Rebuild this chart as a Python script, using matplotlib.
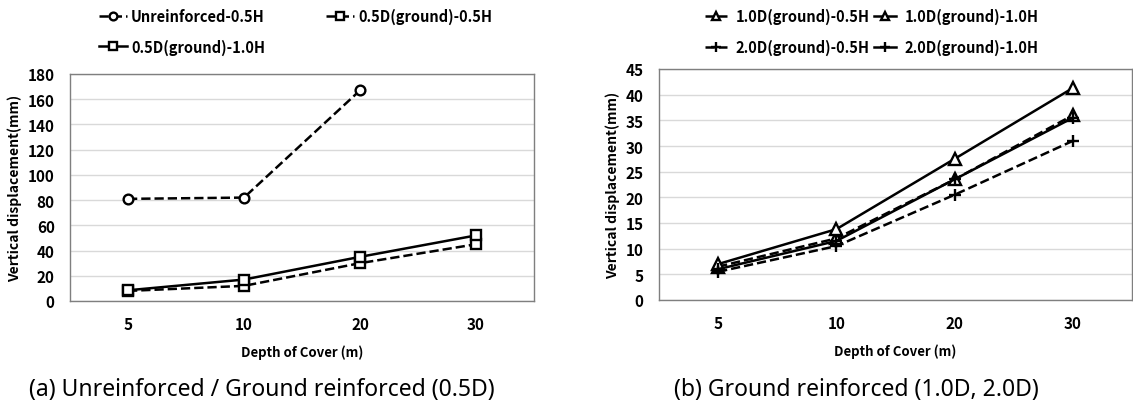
import matplotlib
matplotlib.use("Agg")
import matplotlib.pyplot as plt
import numpy as np

plt.rcParams["font.family"] = ["Noto Sans CJK KR", "DejaVu Sans"]

depths = ["5", "10", "20", "30"]

# (a) unreinforced / 0.5D
unreinf_05H = [81, 82, 167, np.nan]
d05_05H = [8, 12, 30, 45]
d05_10H = [8.5, 17, 35, 52]

# (b) 1.0D / 2.0D
d10_05H = [6.5, 12, 23.5, 36]
d10_10H = [7, 13.8, 27.5, 41.3]
d20_05H = [5.5, 10.5, 20.5, 31]
d20_10H = [6, 11.5, 23.5, 35.5]

fig = plt.figure(figsize=(11.33, 4.10), dpi=100)
W, H = 1133, 410
ax1 = fig.add_axes([70 / W, 1 - 302 / H, 464 / W, 227 / H])
ax2 = fig.add_axes([659 / W, 1 - 301 / H, 473 / W, 231 / H])

x = np.arange(len(depths))
mk = dict(color="black", lw=1.8, markerfacecolor="white", markeredgecolor="black", markeredgewidth=1.7)

h1 = ax1.plot(x, unreinf_05H, "--", marker="o", ms=7, label="Unreinforced-0.5H", **mk)[0]
h2 = ax1.plot(x, d05_05H, "--", marker="s", ms=7, label="0.5D(ground)-0.5H", **mk)[0]
h3 = ax1.plot(x, d05_10H, "-", marker="s", ms=7, label="0.5D(ground)-1.0H", **mk)[0]
ax1.set_ylim(0, 180)
ax1.set_yticks(np.arange(0, 181, 20))

g1 = ax2.plot(x, d10_05H, "--", marker="^", ms=8, label="1.0D(ground)-0.5H", **mk)[0]
g2 = ax2.plot(x, d10_10H, "-", marker="^", ms=8, label="1.0D(ground)-1.0H", **mk)[0]
g3 = ax2.plot(x, d20_05H, "--", marker="+", ms=9, label="2.0D(ground)-0.5H", **mk)[0]
g4 = ax2.plot(x, d20_10H, "-", marker="+", ms=9, label="2.0D(ground)-1.0H", **mk)[0]
ax2.set_ylim(0, 45)
ax2.set_yticks(np.arange(0, 46, 5))

for ax in (ax1, ax2):
    ax.set_xlim(-0.5, 3.5)
    ax.set_xticks(x)
    ax.set_xticklabels(depths)
    ax.tick_params(length=0, labelsize=11, pad=11)
    for lab in ax.get_xticklabels() + ax.get_yticklabels():
        lab.set_fontweight("bold")
    ax.grid(axis="y", color="#d9d9d9", lw=1)
    ax.set_axisbelow(True)
    for s in ax.spines.values():
        s.set_color("#7f7f7f")
        s.set_linewidth(1)
    ax.set_ylabel("Vertical displacement(mm)", fontsize=10, fontweight="bold", labelpad=4)
    ax.set_xlabel("Depth of Cover (m)", fontsize=9.5, fontweight="bold", labelpad=9)

leg_kw = dict(ncol=2, frameon=False, markerscale=0.8,
              prop={"weight": "bold", "size": 10.5}, borderaxespad=0, labelspacing=1.0)
ax1.legend([h1, h3, h2], [h.get_label() for h in (h1, h3, h2)],
           loc="upper left", bbox_to_anchor=(93 / W, 1 - 3 / H), bbox_transform=fig.transFigure,
           handlelength=1.9, handletextpad=0.3, columnspacing=4.2, **leg_kw)
ax2.legend([g1, g3, g2, g4], [h.get_label() for h in (g1, g3, g2, g4)],
           loc="upper left", bbox_to_anchor=(699 / W, 1 - 3 / H), bbox_transform=fig.transFigure,
           handlelength=1.5, handletextpad=0.6, columnspacing=0.3, **leg_kw)

cap_font = ["Noto Sans", "DejaVu Sans"]
fig.text(29 / W, 1 - 390 / H, "(a) Unreinforced / Ground reinforced (0.5D)", fontsize=16.5,
         family=cap_font, va="center", ha="left")
fig.text(674 / W, 1 - 390 / H, "(b) Ground reinforced (1.0D, 2.0D)", fontsize=16.5,
         family=cap_font, va="center", ha="left")

fig.savefig("out.png", dpi=100)
